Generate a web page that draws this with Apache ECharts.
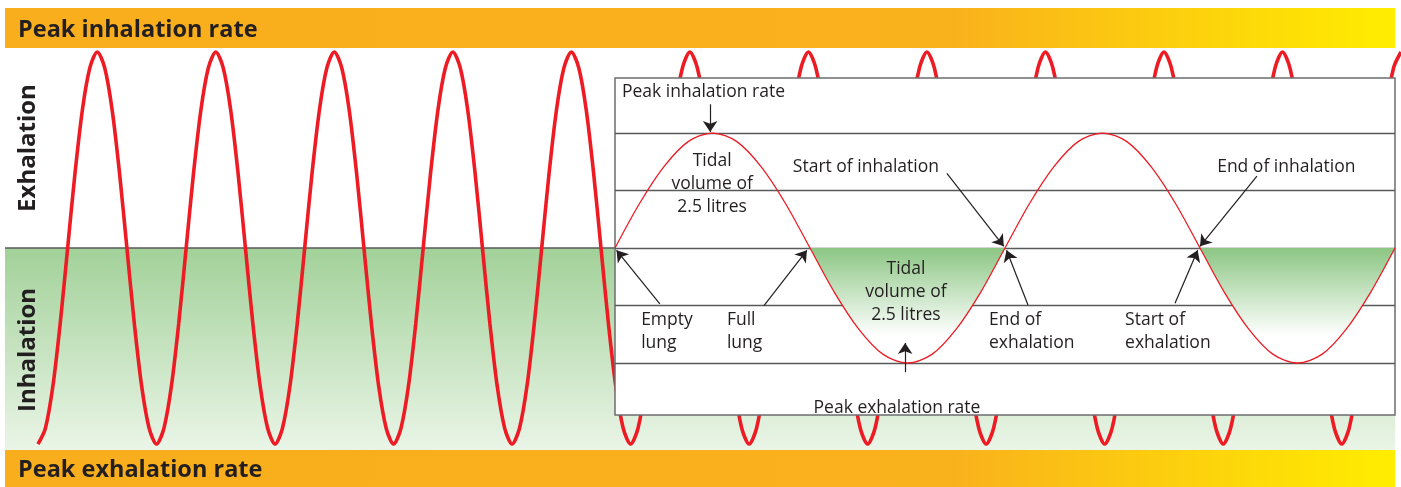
<!DOCTYPE html>
<html>
<head>
<meta charset="utf-8">
<script src="https://cdn.jsdelivr.net/npm/echarts@6/dist/echarts.min.js"></script>
<style>
  html, body { margin: 0; padding: 0; background: #fff; }
  #chart { width: 1401px; height: 487px; }
</style>
</head>
<body>
<div id="chart"></div>
<script>
// big breathing trace, read every 1/16 of a breath, starting at a trough (full inhalation)
const bigStep = 1 / 16
const bigFlow = [
  -0.99, -0.91, -0.7, -0.38, 0, 0.38, 0.7, 0.91, 0.99, 0.91, 0.7, 0.38, 0, -0.38, -0.7, -0.91,
  -0.99, -0.91, -0.7, -0.38, 0, 0.38, 0.7, 0.91, 0.99, 0.91, 0.7, 0.38, 0, -0.38, -0.7, -0.91,
  -0.99, -0.91, -0.7, -0.38, 0, 0.38, 0.7, 0.91, 0.99, 0.91, 0.7, 0.38, 0, -0.38, -0.7, -0.91,
  -0.99, -0.91, -0.7, -0.38, 0, 0.38, 0.7, 0.91, 0.99, 0.91, 0.7, 0.38, 0, -0.38, -0.7, -0.91,
  -0.99, -0.91, -0.7, -0.38, 0, 0.38, 0.7, 0.91, 0.99, 0.91, 0.7, 0.38, 0, -0.38, -0.7, -0.91,
  -0.99, -0.91, -0.7, -0.38, 0, 0.38, 0.7, 0.91, 0.99, 0.91, 0.7, 0.38, 0, -0.38, -0.7, -0.91,
  -0.99, -0.91, -0.7, -0.38, 0, 0.38, 0.7, 0.91, 0.99, 0.91, 0.7, 0.38, 0, -0.38, -0.7, -0.91,
  -0.99, -0.91, -0.7, -0.38, 0, 0.38, 0.7, 0.91, 0.99, 0.91, 0.7, 0.38, 0, -0.38, -0.7, -0.91,
  -0.99, -0.91, -0.7, -0.38, 0, 0.38, 0.7, 0.91, 0.99, 0.91, 0.7, 0.38, 0, -0.38, -0.7, -0.91,
  -0.99, -0.91, -0.7, -0.38, 0, 0.38, 0.7, 0.91, 0.99, 0.91, 0.7, 0.38, 0, -0.38, -0.7, -0.91,
  -0.99, -0.91, -0.7, -0.38, 0, 0.38, 0.7, 0.91, 0.99, 0.91, 0.7, 0.38, 0, -0.38, -0.7, -0.91,
  -0.99, -0.91, -0.7, -0.38, 0, 0.38, 0.7, 0.91, 0.99]

// detail panel: two breaths, read every 1/16 of a breath
const insetStep = 1 / 16
const insetFlow = [
  0, 0.77, 1.41, 1.85, 2, 1.85, 1.41, 0.77, 0, -0.77, -1.41, -1.85, -2, -1.85, -1.41, -0.77,
  0, 0.77, 1.41, 1.85, 2, 1.85, 1.41, 0.77, 0, -0.77, -1.41, -1.85, -2, -1.85, -1.41, -0.77,
  0]
const insetLevels = [2, 1, 0, -1, -2]

const sideLabels = ['Exhalation', 'Inhalation']
const barLabels = ['Peak inhalation rate', 'Peak exhalation rate']

// annotation texts in the panel: [text, t, flow, align]
const notes = [
  ['Peak inhalation rate', 0.018, 2.72, 'left'],
  ['Tidal\nvolume of\n2.5 litres', 0.249, 1.11, 'center'],
  ['Start of inhalation', 0.456, 1.41, 'left'],
  ['End of inhalation', 1.544, 1.41, 'left'],
  ['Empty\nlung', 0.067, -1.46, 'left'],
  ['Full\nlung', 0.287, -1.46, 'left'],
  ['Tidal\nvolume of\n2.5 litres', 0.746, -0.76, 'center'],
  ['End of\nexhalation', 0.959, -1.46, 'left'],
  ['Start of\nexhalation', 1.308, -1.46, 'left'],
  ['Peak exhalation rate', 0.723, -2.78, 'center']
]
// arrows: from [t, flow] to [t, flow]
const arrows = [
  [[0.244, 2.5], [0.244, 2.02]],
  [[0.851, 1.3], [0.997, 0.03]],
  [[1.646, 1.25], [1.5, 0.03]],
  [[0.115, -0.97], [0.004, -0.04]],
  [[0.382, -1.0], [0.492, -0.04]],
  [[1.059, -0.99], [1.004, -0.04]],
  [[1.436, -0.96], [1.494, -0.04]],
  [[0.744, -2.16], [0.744, -1.65]]
]

const bigX = [-0.2785, 11.5]
const bandEnd = 11.451
const bigY = [-1.207, 1.212]
const insetY = [-2.904, 2.957]

const ink = '#231f20'
const red = '#ed1c24'
const grey = '#58595b'
const barFill = {
  type: 'linear', x: 0, y: 0, x2: 1, y2: 0,
  colorStops: [{offset: 0, color: '#f9ae1d'}, {offset: 0.68, color: '#f9b11c'}, {offset: 1, color: '#ffed00'}]
}
const greenBand = {
  type: 'linear', x: 0, y: 0, x2: 0, y2: 1,
  colorStops: [{offset: 0, color: '#a2d199'}, {offset: 1, color: '#eaf5e7'}]
}
const insetGreen = {
  type: 'linear', x: 0, y: 0, x2: 0, y2: 1,
  colorStops: [
    {offset: 0, color: 'rgba(255,255,255,0)'}, {offset: 0.5, color: 'rgba(255,255,255,0)'},
    {offset: 0.5, color: '#8cc684'}, {offset: 0.88, color: '#ffffff'}, {offset: 1, color: '#ffffff'}
  ]
}
const boldFont = {color: ink, fontFamily: 'Open Sans', fontWeight: 'bold', fontSize: 23.5}
const barLabel = Object.assign({show: true, position: 'insideLeft', distance: 13, offset: [0, 2]}, boldFont)

const bigData = bigFlow.map((v, i) => [i * bigStep, v])
const insetData = insetFlow.map((v, i) => [i * insetStep, v])

const chart = echarts.init(document.getElementById('chart'), null, {renderer: 'canvas'})

chart.setOption({
  animation: false,
  grid: [
    {left: 5, right: 0, top: 8, bottom: 0},
    {left: 615, top: 78, width: 780, height: 337}
  ],
  xAxis: [
    {type: 'value', gridIndex: 0, min: bigX[0], max: bigX[1], show: false},
    {type: 'value', gridIndex: 1, min: 0, max: 2, show: false}
  ],
  yAxis: [
    {type: 'value', gridIndex: 0, min: bigY[0], max: bigY[1], show: false},
    {type: 'value', gridIndex: 1, min: insetY[0], max: insetY[1], show: false}
  ],
  series: [
    {
      type: 'line', xAxisIndex: 0, yAxisIndex: 0, z: 2,
      data: bigData,
      smooth: 0.3, symbol: 'none', silent: true,
      lineStyle: {color: red, width: 3.6},
      markArea: {
        z: 1, silent: true,
        data: [
          [{coord: [bigX[0], 1.0101], itemStyle: {color: barFill}, label: Object.assign({formatter: barLabels[0]}, barLabel)},
           {coord: [bandEnd, bigY[1]]}],
          [{coord: [bigX[0], bigY[0]], itemStyle: {color: barFill}, label: Object.assign({formatter: barLabels[1]}, barLabel)},
           {coord: [bandEnd, -1.02]}],
          [{coord: [bigX[0], 0], itemStyle: {color: greenBand}, label: {show: false}},
           {coord: [bandEnd, -1.02]}]
        ]
      },
      markLine: {
        z: 1, silent: true, symbol: 'none',
        lineStyle: {color: grey, width: 1.5, type: 'solid'},
        label: {show: false},
        data: [[{coord: [bigX[0], 0]}, {coord: [bandEnd, 0]}]]
      },
      markPoint: {
        z: 7, silent: true, symbol: 'circle', symbolSize: 0,
        data: [
          {coord: [-0.0844, 0.505], label: {formatter: sideLabels[0]}},
          {coord: [-0.0844, -0.515], label: {formatter: sideLabels[1]}}
        ],
        label: Object.assign({show: true, position: 'inside', rotate: 90}, boldFont, {fontSize: 24})
      }
    },
    {
      // green fill of the exhalation troughs, plus panel frame and level lines
      type: 'line', xAxisIndex: 1, yAxisIndex: 1, z: 5,
      data: insetData,
      smooth: 0.3, symbol: 'none', silent: true,
      lineStyle: {width: 0},
      areaStyle: {color: insetGreen, opacity: 1},
      markArea: {
        z: 3, silent: true,
        itemStyle: {color: '#ffffff', borderColor: '#6d6e70', borderWidth: 1.5},
        label: {show: false},
        data: [[{coord: [0, insetY[0]]}, {coord: [2, insetY[1]]}]]
      },
      markLine: {
        z: 4, silent: true, symbol: 'none',
        lineStyle: {color: grey, width: 1.3, type: 'solid'},
        label: {show: false},
        data: insetLevels.map(v => [{coord: [0, v]}, {coord: [2, v]}])
      }
    },
    {
      type: 'line', xAxisIndex: 1, yAxisIndex: 1, z: 6,
      data: insetData,
      smooth: 0.3, symbol: 'none', silent: true,
      lineStyle: {color: red, width: 1.3},
      markLine: {
        z: 7, silent: true, symbol: ['none', 'arrow'], symbolSize: 11,
        lineStyle: {color: ink, width: 1.2, type: 'solid'},
        label: {show: false},
        data: arrows.map(a => [{coord: a[0]}, {coord: a[1]}])
      },
      markPoint: {
        z: 7, silent: true, symbol: 'circle', symbolSize: 0,
        data: notes.map(n => ({
          coord: [n[1], n[2]],
          label: {
            formatter: n[0],
            position: n[3] === 'left' ? 'right' : 'inside',
            distance: 0, align: n[3]
          }
        })),
        label: {show: true, color: ink, fontFamily: 'Open Sans', fontSize: 17.5, lineHeight: 23}
      }
    }
  ]
})
</script>
</body>
</html>
